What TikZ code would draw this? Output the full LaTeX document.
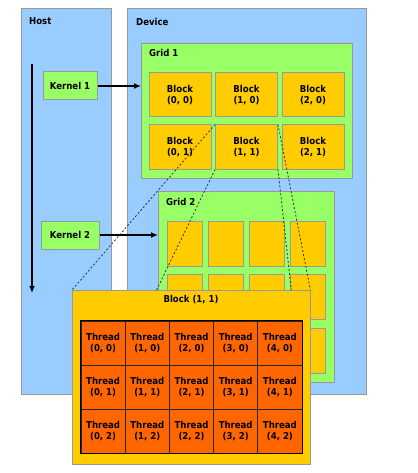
\documentclass[tikz,border=0pt]{standalone}
\usepackage{fontspec}
\setmainfont{DejaVu Sans Condensed}[BoldFont={DejaVu Sans Condensed Bold}]
\usetikzlibrary{arrows.meta}
\definecolor{areablue}{HTML}{99CCFF}
\definecolor{gridgreen}{HTML}{99FF66}
\definecolor{blockyellow}{HTML}{FFCC00}
\definecolor{threadorange}{HTML}{FF6600}
\definecolor{edgegray}{HTML}{999999}
\begin{document}
\begin{tikzpicture}[x=1pt, y=-1pt,
    every node/.style={inner sep=0pt, font=\bfseries\fontsize{9.5}{11.5}\selectfont, align=center},
    panel/.style={draw=edgegray, line width=1pt, anchor=north west},
    area/.style={panel, fill=areablue},
    gridbox/.style={panel, fill=gridgreen},
    kernelbox/.style={draw=edgegray, line width=1pt, fill=gridgreen, minimum width=54, minimum height=28},
    blockbox/.style={draw=edgegray, line width=1pt, fill=blockyellow, minimum width=62, minimum height=44},
    smallblock/.style={draw=edgegray, line width=1pt, fill=blockyellow, minimum width=35, minimum height=45},
    threadbox/.style={draw=black!85, line width=0.8pt, fill=threadorange, minimum width=44.2, minimum height=44},
    title/.style={anchor=west},
    call/.style={line width=1.3pt, -{Latex[length=7pt, width=6pt]}},
    zoomline/.style={dash pattern=on 2pt off 2pt, line width=0.8pt, black!80}]
\useasboundingbox (0,0) rectangle (417,473);
\node[area, minimum width=90, minimum height=386] (host) at (21,8) {};
\node[title] (hostlbl) at (29,21) {Host};
\node[area, minimum width=239, minimum height=386] (device) at (127,8) {};
\node[title] (devicelbl) at (136,22) {Device};
\node[gridbox, minimum width=211, minimum height=135] (grid1) at (141,43) {};
\node[title] (grid1lbl) at (149,53) {Grid 1};
\foreach \i in {0,1,2}
  \foreach \j in {0,1}
    \node[blockbox] (b\i\j) at (180+66.5*\i, 95+52*\j) {Block\\(\i, \j)};
\node[kernelbox] (k1) at (70,86) {Kernel 1};
\draw[call] (k1.east) -- (k1.east -| grid1.west);
\node[gridbox, minimum width=176, minimum height=191] (grid2) at (158,191) {};
\node[title] (grid2lbl) at (166,202) {Grid 2};
\foreach \i in {0,...,3}
  \foreach \j in {0,1,2}
    \node[smallblock] (g\i\j) at (184.5+41*\i, 243.5+53.5*\j) {};
\node[kernelbox, minimum width=58] (k2) at (70,235) {Kernel 2};
\draw[call] (k2.east) -- (k2.east -| grid2.west);
\coordinate (tstart) at (32,64);
\coordinate (tend) at (32,293);
\draw[call] (tstart) -- (tend);
\path node[anchor=north west, minimum width=238, minimum height=174] (zone) at (72,290) {};
\draw[zoomline] (b11.north west) -- (zone.north west);
\draw[zoomline] (b11.south west) -- (zone.south west);
\draw[zoomline] (b11.north east) -- (zone.north east);
\draw[zoomline] (b11.south east) -- (zone.south east);
\node[panel, fill=blockyellow, minimum width=238, minimum height=174] (blk) at (72,290) {};
\node (blklbl) at (191,300) {Block (1, 1)};
\foreach \i in {0,...,4}
  \foreach \j in {0,1,2}
    \node[threadbox] (t\i\j) at (103.1+44.2*\i, 343+44*\j) {Thread\\(\i, \j)};
\draw[line width=1pt] (t00.north west) rectangle (t42.south east);
\end{tikzpicture}
\end{document}
